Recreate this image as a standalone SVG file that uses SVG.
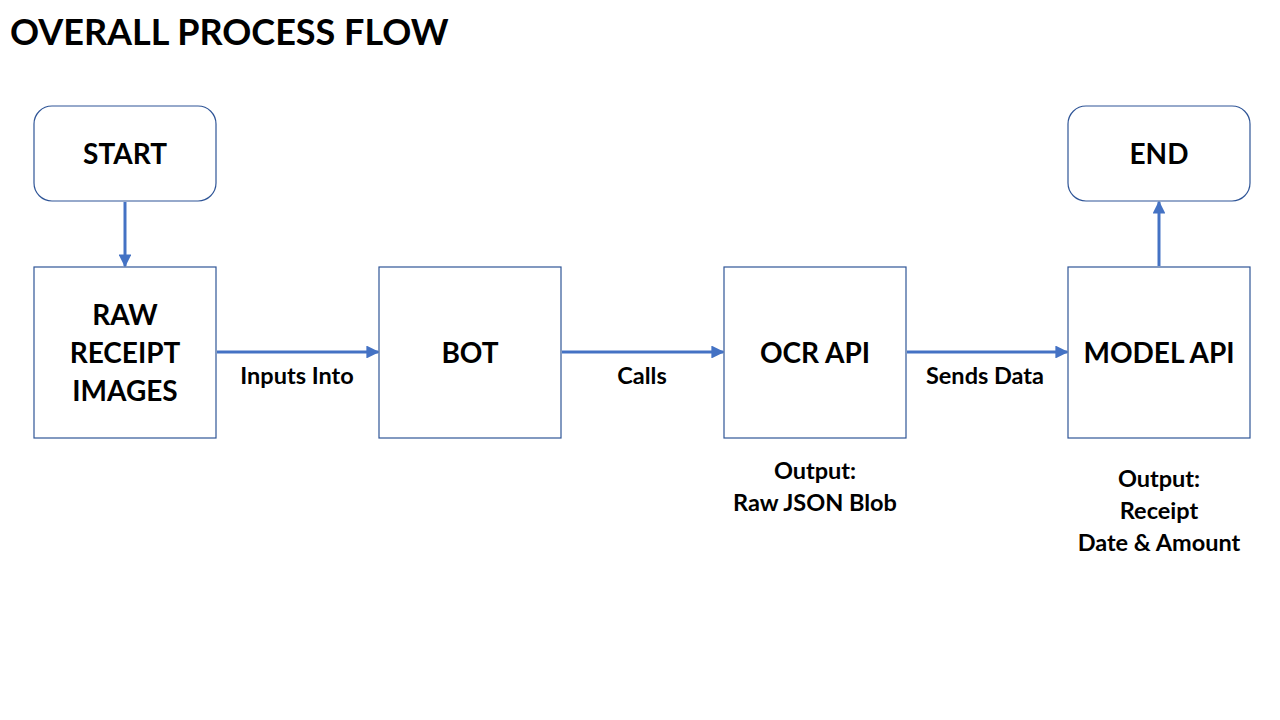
<svg xmlns="http://www.w3.org/2000/svg" width="1280" height="720" viewBox="0 0 1280 720">
<style>
.box{fill:#fff;stroke:#2F5597;stroke-width:1.2}
.t{font-family:Lato,"Liberation Sans",sans-serif;font-weight:bold;fill:#000;text-anchor:middle}
.n{font-size:28px}
.l{font-size:23.5px}
.conn{stroke:#4472C4;stroke-width:3;fill:none}
</style>
<defs>
<marker id="ah" viewBox="0 0 10 10" refX="9" refY="5" markerWidth="4.3" markerHeight="4.3" orient="auto" markerUnits="strokeWidth">
<path d="M0,0 L10,5 L0,10 z" fill="#4472C4"/>
</marker>
</defs>
<rect width="1280" height="720" fill="#fff"/>
<text x="10" y="45" font-family="Lato,'Liberation Sans',sans-serif" font-weight="bold" font-size="36" fill="#000">OVERALL PROCESS FLOW</text>
<g id="connectors">
<line class="conn" x1="125" y1="202" x2="125" y2="266" marker-end="url(#ah)"/>
<line class="conn" x1="217" y1="352" x2="378" y2="352" marker-end="url(#ah)"/>
<line class="conn" x1="562" y1="352" x2="723" y2="352" marker-end="url(#ah)"/>
<line class="conn" x1="907" y1="352" x2="1067" y2="352" marker-end="url(#ah)"/>
<line class="conn" x1="1159" y1="266" x2="1159" y2="202" marker-end="url(#ah)"/>
<text class="t l" x="297" y="384">Inputs Into</text>
<text class="t l" x="642" y="384">Calls</text>
<text class="t l" x="985" y="384">Sends Data</text>
</g>
<g id="start">
<rect class="box" x="34" y="106" width="182" height="95" rx="18"/>
<text class="t n" x="125" y="164">START</text>
</g>
<g id="raw">
<rect class="box" x="34" y="267" width="182" height="171"/>
<text class="t n" x="125" y="325">RAW</text>
<text class="t n" x="125" y="363">RECEIPT</text>
<text class="t n" x="125" y="401">IMAGES</text>
</g>
<g id="bot">
<rect class="box" x="379" y="267" width="182" height="171"/>
<text class="t n" x="470" y="363">BOT</text>
</g>
<g id="ocr">
<rect class="box" x="724" y="267" width="182" height="171"/>
<text class="t n" x="815" y="363">OCR API</text>
<text class="t l" x="815" y="479">Output:</text>
<text class="t l" x="815" y="511">Raw JSON Blob</text>
</g>
<g id="model">
<rect class="box" x="1068" y="267" width="182" height="171"/>
<text class="t n" x="1159" y="363">MODEL API</text>
<text class="t l" x="1159" y="487">Output:</text>
<text class="t l" x="1159" y="519">Receipt</text>
<text class="t l" x="1159" y="551">Date &amp; Amount</text>
</g>
<g id="end">
<rect class="box" x="1068" y="106" width="182" height="95" rx="18"/>
<text class="t n" x="1159" y="164">END</text>
</g>
</svg>
